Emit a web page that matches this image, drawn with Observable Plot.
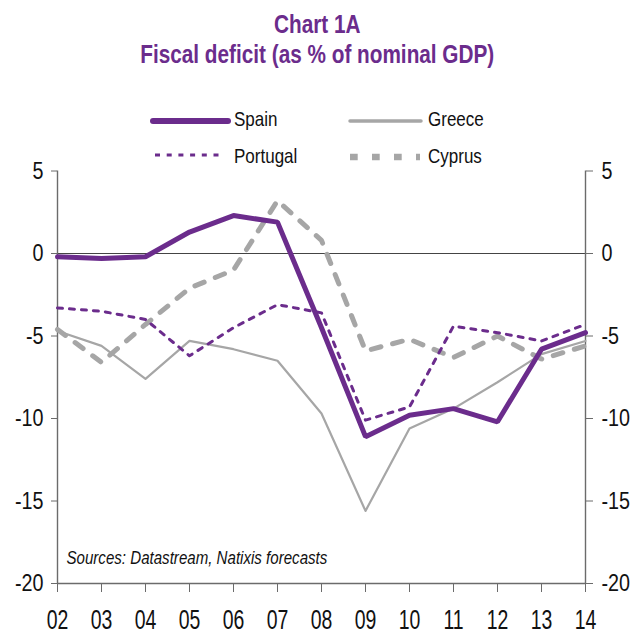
<!DOCTYPE html>
<html><head><meta charset="utf-8">
<script src="https://cdn.jsdelivr.net/npm/d3@7"></script>
<script src="https://cdn.jsdelivr.net/npm/@observablehq/plot@0.6"></script>
<style>
body{margin:0;background:#fff;width:633px;height:635px;overflow:hidden;}
#head{position:relative;height:150px;width:633px;font-family:"Liberation Sans",Arial,sans-serif;}
.t{position:absolute;left:0;width:633px;text-align:center;color:#6b2c8c;font-weight:bold;font-size:25px;line-height:25px;white-space:nowrap;transform:scaleX(0.83);transform-origin:321px 0;}
.lg{position:absolute;font-size:21px;line-height:21px;color:#111;white-space:nowrap;transform-origin:left center;transform:scaleX(0.81);}
.ls{position:absolute;}
#chart{width:633px;height:485px;}
</style></head>
<body>
<div id="head">
  <div class="t" style="top:12px">Chart 1A</div>
  <div class="t" style="top:42px">Fiscal deficit (as % of nominal GDP)</div>
  <svg class="ls" style="left:150px;top:111px" width="82" height="20"><line x1="3" y1="10" x2="78" y2="10" stroke="#6b2c8c" stroke-width="6" stroke-linecap="round"/></svg>
  <div class="lg" style="left:234px;top:108px">Spain</div>
  <svg class="ls" style="left:348px;top:111px" width="76" height="20"><line x1="2" y1="10" x2="73" y2="10" stroke="#a6a6a6" stroke-width="3.5" stroke-linecap="round"/></svg>
  <div class="lg" style="left:428px;top:108px">Greece</div>
  <svg class="ls" style="left:153px;top:145px" width="76" height="20"><line x1="2" y1="10" x2="72" y2="10" stroke="#6b2c8c" stroke-width="3" stroke-dasharray="5,6.7"/></svg>
  <div class="lg" style="left:234px;top:145px">Portugal</div>
  <svg class="ls" style="left:348px;top:147px" width="76" height="20"><line x1="2" y1="10" x2="72" y2="10" stroke="#a6a6a6" stroke-width="6.7" stroke-dasharray="7.7,14.3"/></svg>
  <div class="lg" style="left:428px;top:145px">Cyprus</div>
</div>
<div id="chart"></div>
<script>
const years = [2,3,4,5,6,7,8,9,10,11,12,13,14];
const xLabels = ["02","03","04","05","06","07","08","09","10","11","12","13","14"];
const yTicks = [5,0,-5,-10,-15,-20];
const spain    = [-0.2,-0.3,-0.2, 1.3, 2.3, 1.9,-4.5,-11.1,-9.8,-9.4,-10.2,-5.8,-4.8];
const greece   = [-4.7,-5.6,-7.6,-5.3,-5.8,-6.5,-9.7,-15.6,-10.6,-9.4,-7.8,-6.1,-5.3];
const portugal = [-3.3,-3.5,-4.0,-6.2,-4.5,-3.1,-3.6,-10.1,-9.3,-4.4,-4.8,-5.3,-4.3];
const cyprus   = [-4.6,-6.6,-4.3,-2.1,-1.0, 3.2, 0.8,-5.9,-5.2,-6.3,-5.0,-6.4,-5.6];
const source = "Sources: Datastream, Natixis forecasts";

const rows = (vals) => years.map((x,i)=>({x, y: vals[i]}));
const font = '"Liberation Sans",Arial,sans-serif';
const fmtX = d => xLabels[years.indexOf(d)];
const fmtY = d => String(d);

const chart = Plot.plot({
  width: 633, height: 485,
  marginLeft: 57, marginRight: 48, marginTop: 20.5, marginBottom: 52,
  style: {fontFamily: font, fontSize: "23px", color: "#111", background: "white", overflow: "visible"},
  x: {domain: [2,14], axis: null},
  y: {domain: [-20,5], axis: null},
  marks: [
    Plot.ruleY([0], {stroke: "#444", strokeWidth: 1.2}),
    Plot.ruleX([2,14], {stroke: "#6b6b6b", strokeWidth: 1.4}),
    Plot.ruleY([-20], {stroke: "#6b6b6b", strokeWidth: 1.4}),
    Plot.line(rows(greece), {x:"x", y:"y", stroke:"#a6a6a6", strokeWidth:2.2}),
    Plot.line(rows(cyprus), {x:"x", y:"y", stroke:"#a6a6a6", strokeWidth:5, strokeDasharray:"10,12", strokeLinejoin:"miter"}),
    Plot.line(rows(portugal), {x:"x", y:"y", stroke:"#6b2c8c", strokeWidth:3, strokeDasharray:"5,7"}),
    Plot.line(rows(spain), {x:"x", y:"y", stroke:"#6b2c8c", strokeWidth:5, strokeLinejoin:"miter"}),
    Plot.axisX({ticks: years, tickFormat: fmtX, tickSize: 9, tickPadding: 17, stroke: "#6b6b6b", fontSize: 27, label: null}),
    Plot.axisY({anchor: "left", ticks: yTicks, tickFormat: fmtY, tickSize: 6, tickPadding: 8, stroke: "#6b6b6b", fontSize: 23.5, label: null}),
    Plot.axisY({anchor: "right", ticks: yTicks, tickFormat: fmtY, tickSize: 7, tickPadding: 9, stroke: "#6b6b6b", fontSize: 23.5, label: null}),
    Plot.text([source], {frameAnchor: "bottom-left", dx: 9, dy: -20, textAnchor: "start", lineAnchor: "bottom", fontStyle: "italic", fontSize: 17.7, fill: "#111"})
  ]
});
document.getElementById("chart").appendChild(chart);

// condensed (Arial Narrow-like) text
const sel = d3.select(chart);
const squeeze = (s, k) => s.each(function(){
  const t = this.getAttribute("transform") || "";
  this.setAttribute("transform", t + ` scale(${k},1)`);
});
squeeze(sel.selectAll('g[aria-label="x-axis tick label"] text'), 0.72);
squeeze(sel.selectAll('g[aria-label="y-axis tick label"] text'), 0.84);
sel.selectAll('g[aria-label="text"] text').each(function(){
  const w = this.getBBox().width;
  const t = this.getAttribute("transform") || "";
  if (w > 0) this.setAttribute("transform", t + ` scale(${261 / w},1)`);
});
</script>
</body></html>
